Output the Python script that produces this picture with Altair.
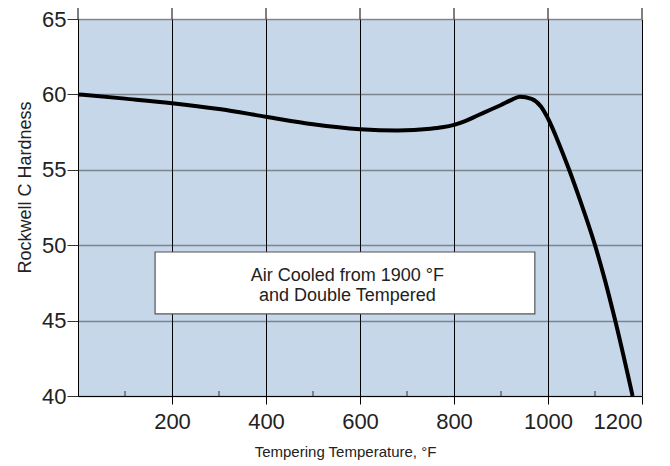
import altair as alt
import pandas as pd

temps = [0, 100, 200, 300, 400, 500, 600, 680, 750, 775, 800, 825, 850, 875, 900, 920, 940, 965, 985, 1000, 1025, 1045, 1068, 1100, 1121, 1143, 1180]
hardness = [60.0, 59.72, 59.42, 59.03, 58.52, 58.02, 57.69, 57.6, 57.72, 57.82, 57.98, 58.25, 58.6, 58.95, 59.3, 59.6, 59.85, 59.7, 59.2, 58.4, 56.6, 55.0, 53.0, 50.0, 47.7, 45.0, 40.0]

x_ticks = [200, 400, 600, 800, 1000, 1200]
y_ticks = [40, 45, 50, 55, 60, 65]
minor_ticks = [100, 300, 500, 700, 900, 1100]
top_ext = [0, 200, 400, 600, 800, 1000, 1200]

box = {"x": 164, "x2": 972, "y": 45.44, "y2": 49.55}
note_lines = ["Air Cooled from 1900 °F", "and Double Tempered"]
note_x = 573
note_y = [47.95, 46.62]

W, H = 564, 377
FONT = "Liberation Sans"

xs = alt.Scale(domain=[0, 1200], nice=False, zero=False)
ys = alt.Scale(domain=[40, 65], nice=False, zero=False)

curve_df = pd.DataFrame({"t": temps, "h": hardness})

base_axes = alt.Chart(curve_df).mark_line(opacity=0).encode(
    x=alt.X("t:Q", scale=xs, axis=alt.Axis(
        values=x_ticks, format="d", title="Tempering Temperature, °F", grid=True,
        gridColor="#000000", gridWidth=1, gridOpacity=1,
        domain=True, domainColor="#000000", domainWidth=1,
        tickColor="#000000", tickSize=8, labelFontSize=22, labelColor="#222222",
        labelPadding=7, titleFontSize=15, titleFontWeight="normal", titleColor="#222222",
        titleX=267, titleY=48, titleBaseline="top", labelFont=FONT, titleFont=FONT)),
    y=alt.Y("h:Q", scale=ys, axis=alt.Axis(
        values=y_ticks, title="Rockwell C Hardness", grid=True,
        gridColor="#333333", gridDash=[1, 1], gridWidth=1.6, gridOpacity=1,
        domain=True, domainColor="#000000", domainWidth=1,
        tickColor="#333333", tickSize=11, labelFontSize=22, labelColor="#222222",
        labelPadding=1, titleFontSize=18, titleFontWeight="normal", titleColor="#222222",
        titleX=-44, titleY=168, labelFont=FONT, titleFont=FONT)),
)

top_rules = alt.Chart(pd.DataFrame({"t": top_ext})).mark_rule(color="#000000", strokeWidth=1).encode(
    x=alt.X("t:Q", scale=xs), y=alt.value(-11), y2=alt.value(0))

minor = alt.Chart(pd.DataFrame({"t": minor_ticks})).mark_rule(color="#333333", strokeWidth=1).encode(
    x=alt.X("t:Q", scale=xs), y=alt.value(H - 5), y2=alt.value(H))

box_df = pd.DataFrame([box])
rect = alt.Chart(box_df).mark_rect(fill="#ffffff", stroke="#555555", strokeWidth=1.2).encode(
    x=alt.X("x:Q", scale=xs), x2="x2:Q", y=alt.Y("y:Q", scale=ys), y2="y2:Q")

note_df = pd.DataFrame({"x": [note_x, note_x], "y": note_y, "txt": note_lines})
note = alt.Chart(note_df).mark_text(fontSize=18, font=FONT, color="#222222", align="center", baseline="middle").encode(
    x=alt.X("x:Q", scale=xs), y=alt.Y("y:Q", scale=ys), text="txt:N")

line = alt.Chart(curve_df).mark_line(color="#000000", strokeWidth=4, interpolate="monotone").encode(
    x=alt.X("t:Q", scale=xs), y=alt.Y("h:Q", scale=ys))

chart = alt.layer(base_axes, top_rules, minor, rect, note, line).properties(
    width=W, height=H,
    background="#ffffff",
    autosize=alt.AutoSizeParams(type="none"),
    padding={"left": 70, "top": 11, "right": 20, "bottom": 70},
).configure_view(fill="#c6d7ea", stroke=None)

chart.save("out.html", embed_options={"renderer": "svg", "actions": False})
